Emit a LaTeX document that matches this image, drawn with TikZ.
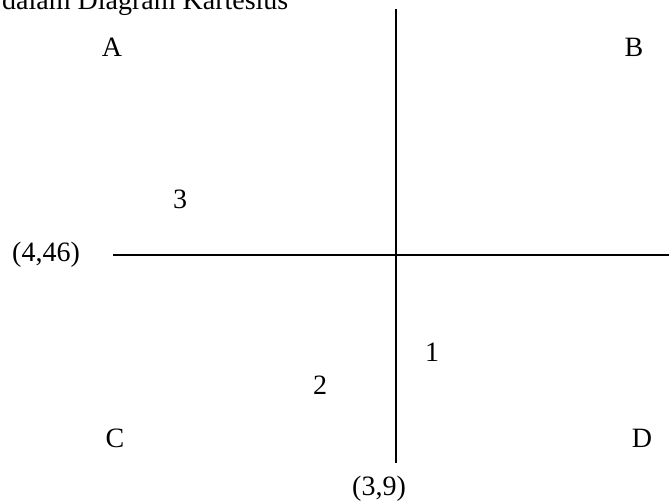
\documentclass[tikz,border=0pt]{standalone}
\usepackage{fontspec}
\setmainfont{Liberation Serif}
\newcommand{\bigtxt}{\fontsize{28}{32}\selectfont}

\begin{document}
\begin{tikzpicture}[
  x=1pt, y=-1pt,
  axis/.style={line width=2pt},
  lbl/.style={font=\bigtxt, inner sep=0pt, anchor=base},
]
  \useasboundingbox (0,0) rectangle (669,502);
  \begin{scope}
  \clip (0,0) rectangle (669,502);
  % ---------------- title (cut off at the top)
  \node[lbl, anchor=base west] (title) at (2,10) {dalam Diagram Kartesius};

  % ---------------- axes
  \coordinate (ytop) at (396,9);
  \coordinate (ybot) at (396,463);
  \coordinate (xleft) at (113,255);
  \coordinate (xright) at (669,255);
  \draw[axis] (ytop) -- (ybot);
  \draw[axis] (xleft) -- (xright);

  % ---------------- quadrant labels
  \node[lbl] (qa) at (112,57) {A};
  \node[lbl] (qb) at (634,57) {B};
  \node[lbl] (qc) at (115,447) {C};
  \node[lbl] (qd) at (642,447) {D};

  % ---------------- points
  \node[lbl] (p1) at (432,361) {1};
  \node[lbl] (p2) at (320,394) {2};
  \node[lbl] (p3) at (180,209) {3};

  % ---------------- axis values
  \node[lbl, anchor=base west] (xval) at (12,262) {(4,46)};
  \node[lbl] (yval) at (379,495) {(3,9)};
  \end{scope}
\end{tikzpicture}
\end{document}
